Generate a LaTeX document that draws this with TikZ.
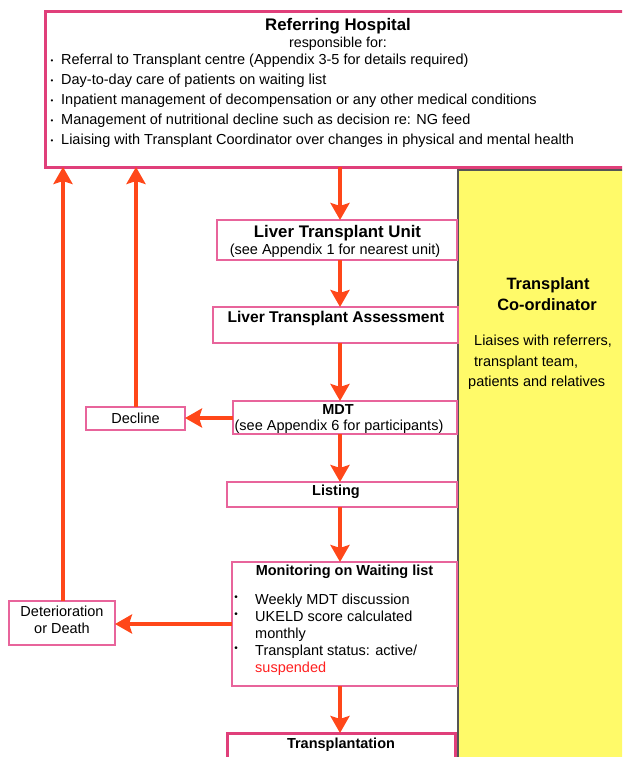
\documentclass[tikz,border=0pt]{standalone}
\usepackage{fontspec}
\setmainfont{Liberation Sans}
\usetikzlibrary{arrows.meta}
\definecolor{arrowred}{HTML}{FF4719}
\definecolor{pinkline}{HTML}{E8649B}
\definecolor{pinkthick}{HTML}{E03F7A}
\definecolor{coordyellow}{HTML}{FFFA69}
\definecolor{coordgray}{HTML}{555555}
\definecolor{susp}{HTML}{FF2020}
\begin{document}
\begin{tikzpicture}[x=1pt,y=-1pt,
 box/.style={draw=pinkline, line width=1.5pt, fill=white, inner sep=0pt, outer sep=0pt, anchor=north west},
 bigbox/.style={draw=pinkthick, line width=3pt, fill=white, inner sep=0pt, outer sep=0pt, anchor=north west},
 flow/.style={draw=arrowred, line width=4pt, -{Stealth[length=17pt,width=19pt,inset=3pt]}},
 txt/.style={inner sep=0pt, font=\fontsize{14.5}{17}\selectfont},
 btxt/.style={inner sep=0pt, font=\fontsize{14.5}{17}\selectfont\bfseries},
 bul/.style={inner sep=0pt, font=\fontsize{10}{10}\selectfont},
]
\useasboundingbox (0,0) rectangle (622,757);
\begin{scope}
\clip (0,0) rectangle (622,757);
% transplant co-ordinator column
\node[draw=coordgray, fill=coordyellow, line width=1.5pt, inner sep=0pt, outer sep=0pt, anchor=north west, minimum width=200pt, minimum height=620pt] (tc) at (458,170) {};
\node[btxt, font=\fontsize{16.4}{19}\selectfont\bfseries] (tc1) at (548,285) {Transplant};
\node[btxt, font=\fontsize{16.4}{19}\selectfont\bfseries] (tc2) at (547,305) {Co-ordinator};
\node[txt, anchor=mid west] (tc3) at (474,343) {Liaises with referrers,};
\node[txt, anchor=mid west] (tc4) at (474,364) {transplant team,};
\node[txt, anchor=mid west] (tc5) at (468,384) {patients and relatives};

% referring hospital
\node[bigbox, minimum width=583pt, minimum height=155pt] (rh) at (45,12) {};
\node[btxt, font=\fontsize{16.8}{19}\selectfont\bfseries] (rht) at (338,26) {Referring Hospital};
\node[txt, font=\fontsize{14.3}{17}\selectfont] (rhs) at (338,44) {responsible for:};
\foreach \y/\t [count=\i] in {62/{Referral to Transplant centre (Appendix 3-5 for details required)},
  82/{Day-to-day care of patients on waiting list},
  102/{Inpatient management of decompensation or any other medical conditions},
  122/{Management of nutritional decline such as decision re: NG feed},
  142/{Liaising with Transplant Coordinator over changes in physical and mental health}}{
  \node[bul, font=\fontsize{8}{8}\selectfont] (rhb\i) at (52,\y) {•};
  \node[txt, anchor=mid west] (rhl\i) at (61,\y) {\t};
}

% flow boxes
\node[box, minimum width=240pt, minimum height=40pt] (ltu) at (217,220) {};
\node[btxt, font=\fontsize{16.8}{19}\selectfont\bfseries] (ltut) at (337.5,233) {Liver Transplant Unit};
\node[txt] (ltus) at (335,251) {(see Appendix 1 for nearest unit)};

\node[box, minimum width=245pt, minimum height=36pt] (lta) at (213,307) {};
\node[btxt, font=\fontsize{15.6}{18}\selectfont\bfseries] (ltat) at (336,318) {Liver Transplant Assessment};

\node[box, minimum width=224pt, minimum height=33pt] (mdt) at (233,401) {};
\node[btxt] (mdtt) at (338,410) {MDT};
\node[txt] (mdts) at (339,427) {(see Appendix 6 for participants)};

\node[box, minimum width=99pt, minimum height=23pt] (dec) at (86,407) {};
\node[txt] (dect) at (135.5,418) {Decline};

\node[box, minimum width=230pt, minimum height=25pt] (lst) at (227,482) {};
\node[btxt] (lstt) at (336,492) {Listing};

\node[box, minimum width=225pt, minimum height=124pt] (mon) at (232,562) {};
\node[btxt] (mont) at (344.5,572) {Monitoring on Waiting list};
\foreach \by/\ty/\t [count=\i] in {598/602/{Weekly MDT discussion}, 615/619/{UKELD score calculated}, 649/653/{Transplant status: active/}}{
  \node[bul] (monb\i) at (236,\by) {•};
  \node[txt, anchor=mid west] (monl\i) at (255,\ty) {\t};
}
\node[txt, anchor=mid west] (monl4) at (255,636) {monthly};
\node[txt, anchor=mid west, text=susp] (monl5) at (255,670) {suspended};

\node[box, minimum width=106pt, minimum height=44pt] (det) at (9,601) {};
\node[txt] (dett1) at (62,611) {Deterioration};
\node[txt] (dett2) at (62,628) {or Death};

\node[bigbox, minimum width=228pt, minimum height=60pt] (tx) at (227,733) {};
\node[btxt] (txt1) at (341,745) {Transplantation};

% connectors
\coordinate (mx) at (340,0);
\coordinate (lx) at (63,0);
\coordinate (dx) at (136,0);
\coordinate (dy) at (0,418);
\coordinate (my) at (0,624);
\draw[flow] (rh.south -| mx) -- (ltu.north -| mx);
\draw[flow] (ltu.south -| mx) -- (lta.north -| mx);
\draw[flow] (lta.south -| mx) -- (mdt.north -| mx);
\draw[flow] (mdt.south -| mx) -- (lst.north -| mx);
\draw[flow] (lst.south -| mx) -- (mon.north -| mx);
\draw[flow] (mon.south -| mx) -- (tx.north -| mx);
\draw[flow] (mdt.west |- dy) -- (dec.east |- dy);
\draw[flow] (dec.north -| dx) -- (rh.south -| dx);
\draw[flow] (mon.west |- my) -- (det.east |- my);
\draw[flow] (det.north -| lx) -- (rh.south -| lx);
\end{scope}
\end{tikzpicture}
\end{document}
